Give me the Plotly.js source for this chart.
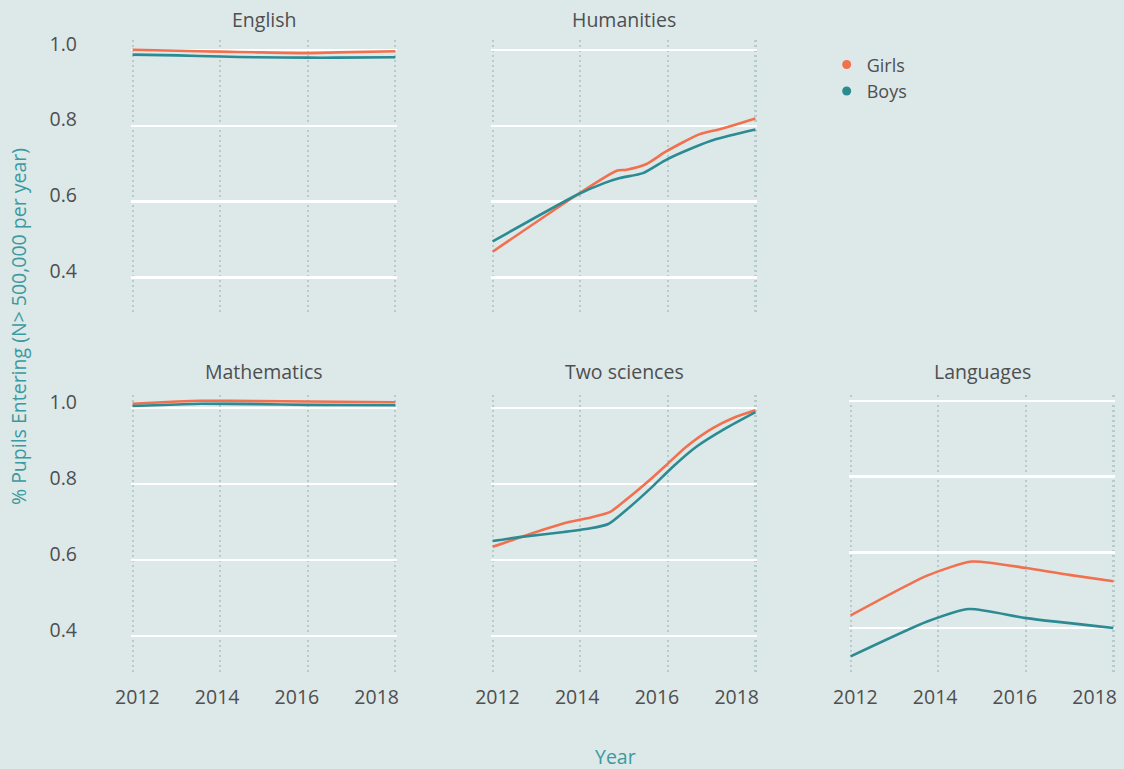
<!DOCTYPE html>
<html>
<head>
<meta charset="utf-8">
<script src="https://cdn.plot.ly/plotly-3.0.1.min.js"></script>
<style>
  html, body { margin: 0; padding: 0; background: #dde8e9; }
  #chart { width: 1124px; height: 769px; }
</style>
</head>
<body>
<div id="chart"></div>
<script>
// ---------- data ----------
const panelNames = ["English", "Humanities", "Mathematics", "Two sciences", "Languages"];
const seriesNames = ["Girls", "Boys"];
const yTickValues = [0.4, 0.6, 0.8, 1.0];
const xTickValues = [2012, 2014, 2016, 2018];

const englishYears = [2011.88, 2013, 2014.08, 2015, 2016.27, 2017, 2018.47];
const englishGirls = [1.000, 0.997, 0.995, 0.993, 0.991, 0.993, 0.996];
const englishBoys  = [0.987, 0.985, 0.982, 0.980, 0.979, 0.979, 0.980];

const humanitiesGirlsYears = [2011.88, 2014.0, 2014.99, 2015.24, 2015.74, 2016.23, 2017.06, 2017.55, 2018.47];
const humanitiesGirls      = [0.468, 0.618, 0.681, 0.684, 0.699, 0.732, 0.777, 0.790, 0.819];
const humanitiesBoysYears  = [2011.88, 2014.0, 2014.66, 2015.07, 2015.65, 2016.23, 2016.89, 2017.47, 2018.47];
const humanitiesBoys       = [0.495, 0.618, 0.648, 0.662, 0.675, 0.710, 0.741, 0.764, 0.790];

const mathsYears = [2011.88, 2013, 2013.6, 2015, 2016.27, 2018.47];
const mathsGirls = [1.012, 1.018, 1.020, 1.019, 1.018, 1.016];
const mathsBoys  = [1.006, 1.010, 1.012, 1.011, 1.009, 1.008];

const sciencesGirlsYears = [2011.88, 2012.6, 2013.67, 2014.25, 2014.83, 2015.32, 2015.82, 2016.23, 2016.73, 2017.39, 2017.97, 2018.47];
const sciencesGirls      = [0.635, 0.661, 0.697, 0.710, 0.727, 0.767, 0.811, 0.850, 0.898, 0.947, 0.977, 0.995];
const sciencesBoysYears  = [2011.88, 2012.6, 2013.67, 2014.3, 2014.78, 2015.32, 2015.9, 2016.4, 2016.98, 2017.72, 2018.47];
const sciencesBoys       = [0.650, 0.661, 0.674, 0.683, 0.695, 0.740, 0.795, 0.846, 0.898, 0.947, 0.990];

const languagesGirlsYears = [2011.88, 2013.8, 2014.92, 2016.28, 2017.36, 2018.47];
const languagesGirls      = [0.434, 0.539, 0.576, 0.559, 0.541, 0.524];
const languagesBoysYears  = [2011.88, 2013.8, 2014.85, 2016.28, 2018.47];
const languagesBoys       = [0.326, 0.418, 0.451, 0.427, 0.401];

// ---------- styling ----------
const BG = "#dde8e9";
const GIRL = "#f1714f";
const BOY = "#2b8a92";
const TEXT = "#4d4f50";
const TEAL_TEXT = "#3b9aa0";
const FONT = "Open Sans, sans-serif";
const DOTGRID = "#b7cbcc";
const FS = 19.5;

const xRange = [2011.84, 2018.51];
const dataStart = 2011.88, dataEnd = 2018.47;
const vGrid = [0, 1, 2, 3].map(k => dataStart + k * (dataEnd - dataStart) / 3);

const colDom = [[0, 0.2703], [0.3659, 0.6362], [0.7297, 1]];
const rowDom = { top: [0.5669, 1], bottom: [0, 0.4409] };

function lineTrace(x, y, color, name, xa, ya) {
  return {
    x: x, y: y, type: "scatter", mode: "lines", name: name,
    legendgroup: name, showlegend: false,
    line: { color: color, width: 2.6, shape: "spline", smoothing: 0.6 },
    xaxis: xa, yaxis: ya, hoverinfo: "x+y+name"
  };
}

const traces = [
  lineTrace(englishYears, englishGirls, GIRL, seriesNames[0], "x", "y"),
  lineTrace(englishYears, englishBoys, BOY, seriesNames[1], "x", "y"),
  lineTrace(humanitiesGirlsYears, humanitiesGirls, GIRL, seriesNames[0], "x2", "y2"),
  lineTrace(humanitiesBoysYears, humanitiesBoys, BOY, seriesNames[1], "x2", "y2"),
  lineTrace(mathsYears, mathsGirls, GIRL, seriesNames[0], "x4", "y4"),
  lineTrace(mathsYears, mathsBoys, BOY, seriesNames[1], "x4", "y4"),
  lineTrace(sciencesGirlsYears, sciencesGirls, GIRL, seriesNames[0], "x5", "y5"),
  lineTrace(sciencesBoysYears, sciencesBoys, BOY, seriesNames[1], "x5", "y5"),
  lineTrace(languagesGirlsYears, languagesGirls, GIRL, seriesNames[0], "x6", "y6"),
  lineTrace(languagesBoysYears, languagesBoys, BOY, seriesNames[1], "x6", "y6"),
  // legend entries (dots)
  { x: [null], y: [null], type: "scatter", mode: "markers", name: seriesNames[0], legendgroup: seriesNames[0],
    marker: { color: GIRL, size: 9 }, xaxis: "x", yaxis: "y", showlegend: true },
  { x: [null], y: [null], type: "scatter", mode: "markers", name: seriesNames[1], legendgroup: seriesNames[1],
    marker: { color: BOY, size: 9 }, xaxis: "x", yaxis: "y", showlegend: true }
];

function xAxis(col, anchor, labels) {
  return {
    domain: colDom[col], anchor: anchor, range: xRange,
    tickmode: "array", tickvals: xTickValues, ticktext: xTickValues.map(String),
    showticklabels: labels, ticks: "", showgrid: false, zeroline: false, showline: false,
    ticklabelstandoff: 8,
    tickfont: { family: FONT, size: FS, color: TEXT },
    minor: { tickmode: "array", tickvals: vGrid, showgrid: true, gridcolor: DOTGRID,
             gridwidth: 2.2, griddash: "2px,3px", ticks: "" },
    fixedrange: true
  };
}
function yAxis(dom, anchor, range, labels) {
  return {
    domain: dom, anchor: anchor, range: range,
    tickmode: "array", tickvals: yTickValues, tickformat: ".1f",
    showticklabels: labels, ticks: "", showgrid: true, gridcolor: "#ffffff", gridwidth: 2.2,
    zeroline: false, showline: false,
    ticklabelstandoff: 53, ticklabelshift: -6,
    tickfont: { family: FONT, size: FS, color: TEXT },
    fixedrange: true
  };
}

const topRange = [0.3013, 1.0255];
const bottomRange = [0.297, 1.035];
const langRange = [0.277, 1.015];

function panelTitle(text, col, yPaper) {
  return {
    text: text, xref: "paper", yref: "paper",
    x: (colDom[col][0] + colDom[col][1]) / 2, y: yPaper,
    xanchor: "center", yanchor: "middle", showarrow: false,
    font: { family: FONT, size: FS, color: TEXT }
  };
}

const layout = {
  width: 1124, height: 769,
  paper_bgcolor: BG, plot_bgcolor: BG,
  margin: { l: 131, r: 9, t: 40, b: 94 },
  font: { family: FONT, color: TEXT },
  showlegend: true,
  legend: {
    x: 0.707, y: 0.990, xanchor: "left", yanchor: "top",
    bgcolor: "rgba(0,0,0,0)", font: { family: FONT, size: 18, color: TEXT },
    itemwidth: 30, tracegroupgap: 0
  },
  xaxis: xAxis(0, "y", false),
  yaxis: yAxis(rowDom.top, "x", topRange, true),
  xaxis2: xAxis(1, "y2", false),
  yaxis2: yAxis(rowDom.top, "x2", topRange, false),
  xaxis4: xAxis(0, "y4", true),
  yaxis4: yAxis(rowDom.bottom, "x4", bottomRange, true),
  xaxis5: xAxis(1, "y5", true),
  yaxis5: yAxis(rowDom.bottom, "x5", bottomRange, false),
  xaxis6: xAxis(2, "y6", true),
  yaxis6: yAxis(rowDom.bottom, "x6", langRange, false),
  annotations: [
    panelTitle(panelNames[0], 0, 1.0315),
    panelTitle(panelNames[1], 1, 1.0315),
    panelTitle(panelNames[2], 0, 0.4787),
    panelTitle(panelNames[3], 1, 0.4787),
    panelTitle(panelNames[4], 2, 0.4787),
    { text: "% Pupils Entering (N> 500,000 per year)", xref: "paper", yref: "paper",
      x: -0.1148, y: 0.548, textangle: -90, showarrow: false, xanchor: "center", yanchor: "middle",
      font: { family: FONT, size: FS, color: TEAL_TEXT } },
    { text: "Year", xref: "paper", yref: "paper", x: 0.4919, y: -0.129,
      showarrow: false, xanchor: "center", yanchor: "middle",
      font: { family: FONT, size: FS, color: TEAL_TEXT } }
  ]
};

Plotly.newPlot("chart", traces, layout, { displayModeBar: false, staticPlot: true });
</script>
</body>
</html>
